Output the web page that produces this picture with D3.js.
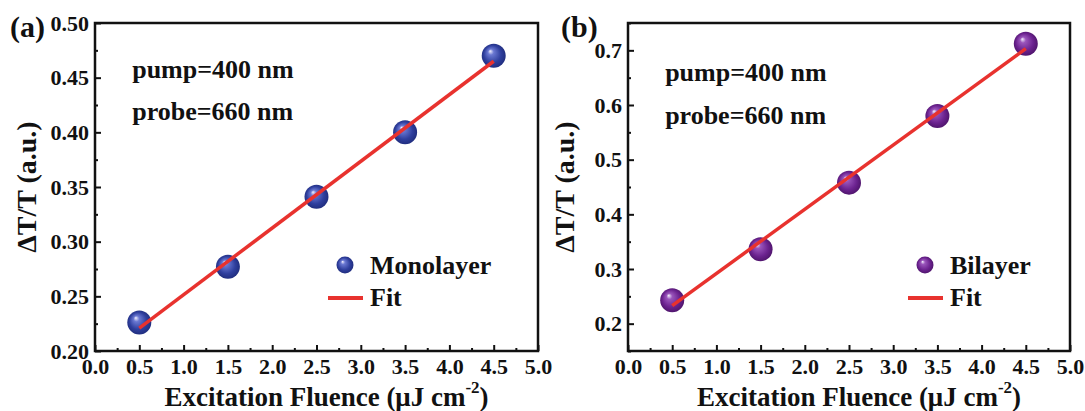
<!DOCTYPE html>
<html>
<head>
<meta charset="utf-8">
<script src="https://cdn.jsdelivr.net/npm/d3@7"></script>
<style>
  html, body { margin: 0; padding: 0; background: #fff; }
  svg text { font-family: "Liberation Serif", "Times New Roman", serif; font-weight: bold; fill: #111; }
</style>
</head>
<body>
<svg id="chart" width="1085" height="411"></svg>
<script>
// ---- Data ----
const fluence = [0.5, 1.5, 2.5, 3.5, 4.5];
const monolayer = [0.226, 0.277, 0.341, 0.400, 0.470];
const bilayer = [0.243, 0.336, 0.458, 0.580, 0.712];
const fitX = [0.5, 4.5];
const fitMono = [0.221, 0.465];
const fitBi = [0.233, 0.703];
const xTicks = [0.0, 0.5, 1.0, 1.5, 2.0, 2.5, 3.0, 3.5, 4.0, 4.5, 5.0];
const xMinor = [0.25, 0.75, 1.25, 1.75, 2.25, 2.75, 3.25, 3.75, 4.25, 4.75];
const yTicksA = [0.20, 0.25, 0.30, 0.35, 0.40, 0.45, 0.50];
const yMinorA = [0.225, 0.275, 0.325, 0.375, 0.425, 0.475];
const yTicksB = [0.2, 0.3, 0.4, 0.5, 0.6, 0.7];
const yMinorB = [0.15, 0.25, 0.35, 0.45, 0.55, 0.65, 0.75];
const panelLabels = ["(a)", "(b)"];
const seriesNames = ["Monolayer", "Bilayer"];
const fitName = "Fit";
const notes = ["pump=400 nm", "probe=660 nm"];

const svg = d3.select("#chart");
const defs = svg.append("defs");

function sphereGrad(id, light, mid, dark) {
  const g = defs.append("radialGradient").attr("id", id)
    .attr("cx", "50%").attr("cy", "50%").attr("r", "55%")
    .attr("fx", "35%").attr("fy", "30%");
  g.append("stop").attr("offset", "0%").attr("stop-color", "#f4f2ff");
  g.append("stop").attr("offset", "22%").attr("stop-color", light);
  g.append("stop").attr("offset", "65%").attr("stop-color", mid);
  g.append("stop").attr("offset", "100%").attr("stop-color", dark);
}
sphereGrad("gBlue", "#6a78d2", "#2f3f9e", "#1d2a78");
sphereGrad("gPurple", "#9a55bb", "#6c2390", "#4a1266");

const FONT = '"Liberation Serif", "Times New Roman", serif';

const panels = [
  { left: 95, right: 538, top: 23, bottom: 351, yDom: [0.20, 0.50], yTicks: yTicksA, yMinor: yMinorA, yFmt: d3.format(".2f"),
    data: monolayer, fit: fitMono, grad: "gBlue", label: panelLabels[0], name: seriesNames[0],
    labelX: 10, yTitleX: 36, noteY: [78, 120], legX: 345 },
  { left: 628, right: 1070, top: 23, bottom: 351, yDom: [0.15, 0.75], yTicks: yTicksB, yMinor: yMinorB, yFmt: d3.format(".1f"),
    data: bilayer, fit: fitBi, grad: "gPurple", label: panelLabels[1], name: seriesNames[1],
    labelX: 561, yTitleX: 574, noteY: [81, 124], legX: 925 }
];

panels.forEach(p => {
  const x = d3.scaleLinear().domain([0, 5]).range([p.left, p.right]);
  const y = d3.scaleLinear().domain(p.yDom).range([p.bottom, p.top]);
  const g = svg.append("g");

  // minor ticks
  g.append("g").attr("transform", `translate(0,${p.bottom})`)
    .call(d3.axisBottom(x).tickValues(xMinor).tickSize(-3).tickFormat(""))
    .call(a => a.select(".domain").remove())
    .call(a => a.selectAll("line").attr("stroke", "#111").attr("stroke-width", 2));
  g.append("g").attr("transform", `translate(${p.left},0)`)
    .call(d3.axisLeft(y).tickValues(p.yMinor).tickSize(-3).tickFormat(""))
    .call(a => a.select(".domain").remove())
    .call(a => a.selectAll("line").attr("stroke", "#111").attr("stroke-width", 2));

  // major ticks + labels
  g.append("g").attr("transform", `translate(0,${p.bottom})`)
    .call(d3.axisBottom(x).tickValues(xTicks).tickSize(-6).tickPadding(7).tickFormat(d3.format(".1f")))
    .call(a => a.select(".domain").remove())
    .call(a => a.selectAll("line").attr("stroke", "#111").attr("stroke-width", 2))
    .call(a => a.selectAll("text").attr("font-size", 22).attr("fill", "#111")
      .style("font-family", FONT).style("font-weight", "bold"));
  g.append("g").attr("transform", `translate(${p.left},0)`)
    .call(d3.axisLeft(y).tickValues(p.yTicks).tickSize(-6).tickPadding(6).tickFormat(p.yFmt))
    .call(a => a.select(".domain").remove())
    .call(a => a.selectAll("line").attr("stroke", "#111").attr("stroke-width", 2))
    .call(a => a.selectAll("text").attr("font-size", 22).attr("fill", "#111")
      .style("font-family", FONT).style("font-weight", "bold"));

  // frame
  g.append("rect").attr("x", p.left).attr("y", p.top)
    .attr("width", p.right - p.left).attr("height", p.bottom - p.top)
    .attr("fill", "none").attr("stroke", "#111").attr("stroke-width", 2.5);

  // fit line
  const line = d3.line().x((d, i) => x(fitX[i])).y(d => y(d));
  // data points
  g.selectAll("circle.pt").data(p.data).join("circle").attr("class", "pt")
    .attr("cx", (d, i) => x(fluence[i])).attr("cy", d => y(d))
    .attr("r", 12).attr("fill", `url(#${p.grad})`);
  g.append("path").datum(p.fit).attr("d", line)
    .attr("stroke", "#e8322e").attr("stroke-width", 3.5).attr("fill", "none");

  // panel label
  g.append("text").attr("x", p.labelX).attr("y", 37).attr("font-size", 30).text(p.label);

  // annotations
  notes.forEach((t, i) => {
    g.append("text").attr("x", x(0.42)).attr("y", p.noteY[i]).attr("font-size", 26).text(t);
  });

  // legend
  g.append("circle").attr("cx", p.legX).attr("cy", 265).attr("r", 8.5).attr("fill", `url(#${p.grad})`);
  g.append("text").attr("x", p.legX + 25).attr("y", 274).attr("font-size", 26).text(p.name);
  g.append("line").attr("x1", p.legX - 17).attr("x2", p.legX + 18).attr("y1", 298).attr("y2", 298)
    .attr("stroke", "#e8322e").attr("stroke-width", 4);
  g.append("text").attr("x", p.legX + 25).attr("y", 306).attr("font-size", 26).text(fitName);

  // x title
  const xt = g.append("text").attr("x", (p.left + p.right) / 2 + 10).attr("y", 406)
    .attr("text-anchor", "middle").attr("font-size", 27);
  xt.append("tspan").text("Excitation Fluence (\u03bcJ cm");
  xt.append("tspan").attr("font-size", 17).attr("dy", -13).text("-2");
  xt.append("tspan").attr("dy", 13).text(")");

  // y title
  g.append("text").attr("transform", `translate(${p.yTitleX},${(p.top + p.bottom) / 2}) rotate(-90)`)
    .attr("text-anchor", "middle").attr("font-size", 28).text("\u0394T/T (a.u.)");
});
</script>
</body>
</html>
